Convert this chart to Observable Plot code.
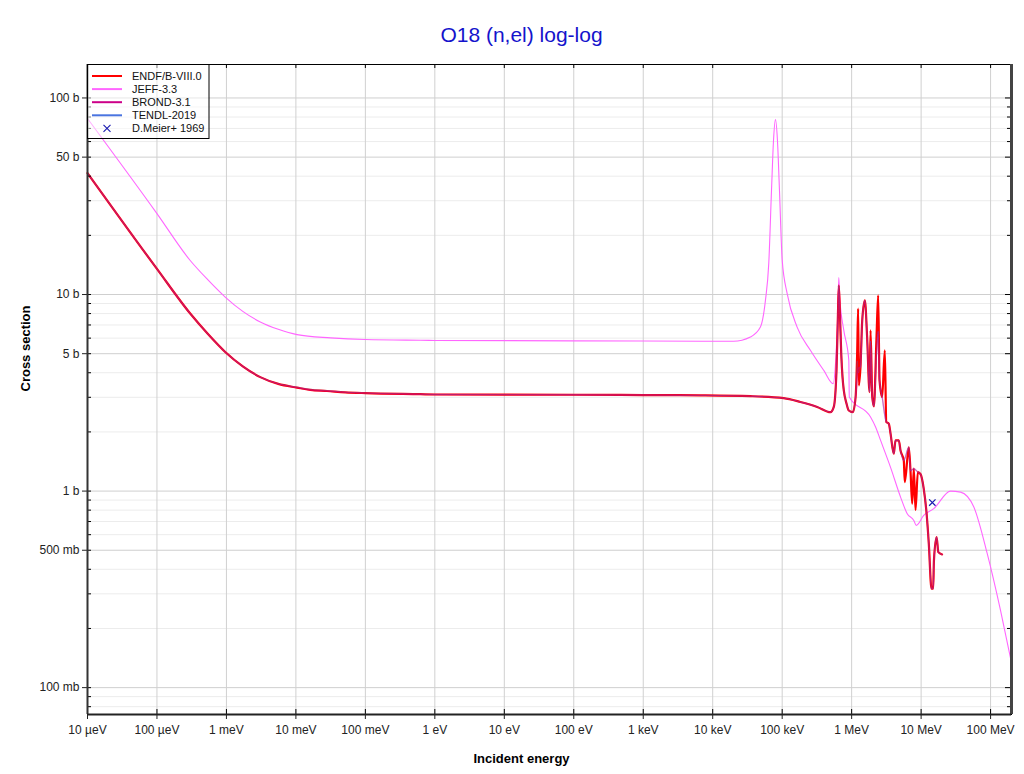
<!DOCTYPE html>
<html>
<head>
<meta charset="utf-8">
<script src="https://cdn.jsdelivr.net/npm/d3@7"></script>
<script src="https://cdn.jsdelivr.net/npm/@observablehq/plot@0.6"></script>
<style>
  html, body { margin: 0; padding: 0; background: #fff; }
  #wrap { position: relative; width: 1024px; height: 774px; }
  #border { position: absolute; left: 6px; top: 3px; width: 1030px; height: 790px; border: 1px solid #e8e8e8; box-sizing: border-box; }
  #chart { position: absolute; left: 0; top: 0; }
  svg text { font-family: "Liberation Sans", Arial, Helvetica, sans-serif; }
</style>
</head>
<body>
<div id="wrap"><div id="border"></div><div id="chart"></div></div>
<script>
// ---------- data (energy in eV, cross section in barns) ----------
const endfE = [1e-5, 1e-4, 3.01e-4, 5.38e-4, 9.6e-4, 1.72e-3, 3.07e-3, 5.57e-3, 0.0104, 0.0161, 0.028, 0.0514, 0.1, 0.62, 1, 100, 1000, 6650, 3.49e4, 1.05e5, 1.83e5, 3.19e5, 4.96e5, 5.53e5, 6.05e5, 6.32e5, 6.53e5, 6.76e5, 7.08e5, 7.39e5, 7.71e5, 8.43e5, 9.1e5, 1.04e6, 1.14e6, 1.20e6, 1.24e6, 1.27e6, 1.34e6, 1.42e6, 1.55e6, 1.67e6, 1.81e6, 1.87e6, 1.98e6, 2.09e6, 2.28e6, 2.41e6, 2.52e6, 2.75e6, 3.0e6, 3.15e6, 3.43e6, 3.63e6, 4.04e6, 4.28e6, 4.77e6, 5.05e6, 5.63e6, 5.82e6, 6.65e6, 7.03e6, 7.44e6, 7.85e6, 8.31e6, 8.97e6, 9.81e6, 1.09e7, 1.2e7, 1.29e7, 1.41e7, 1.49e7, 1.53e7, 1.67e7, 1.77e7, 2.0e7];
const endfS = [41.5, 13.5, 8.0, 6.31, 5.10, 4.31, 3.80, 3.51, 3.36, 3.27, 3.23, 3.18, 3.15, 3.11, 3.10, 3.09, 3.08, 3.07, 3.04, 2.97, 2.84, 2.68, 2.52, 2.68, 4.11, 7.39, 11.1, 8.31, 5.0, 3.80, 3.25, 2.79, 2.57, 2.52, 3.01, 5.0, 8.48, 3.45, 4.28, 7.39, 9.34, 6.08, 3.19, 6.57, 3.01, 2.70, 6.08, 9.91, 3.66, 3.01, 5.2, 2.25, 2.20, 1.96, 1.55, 1.81, 1.81, 1.61, 1.43, 1.11, 1.67, 1.27, 0.863, 1.30, 0.80, 1.25, 1.22, 1.03, 0.767, 0.540, 0.319, 0.319, 0.444, 0.583, 0.489, 0.476];

const jeffE = [1e-5, 1e-4, 3.01e-4, 5.38e-4, 9.6e-4, 1.72e-3, 3.07e-3, 5.57e-3, 0.0104, 0.0315, 0.1, 0.62, 1, 1000, 1.99e4, 3.49e4, 4.86e4, 5.74e4, 6.41e4, 7.02e4, 7.5e4, 8.0e4, 8.55e4, 9.14e4, 1.0e5, 1.18e5, 1.64e5, 2.56e5, 3.97e5, 5.42e5, 5.86e5, 6.32e5, 6.53e5, 6.76e5, 7.71e5, 9.1e5, 9.25e5, 1.87e6, 2.21e6, 2.61e6, 3.63e6, 5.06e6, 6.31e6, 7.85e6, 8.51e6, 1.09e7, 1.52e7, 2.65e7, 3.7e7, 5.74e7, 8.95e7, 1.39e8, 1.94e8];
const jeffS = [78.6, 25.8, 14.9, 11.9, 9.71, 8.21, 7.25, 6.65, 6.25, 6.02, 5.90, 5.85, 5.84, 5.80, 5.78, 6.08, 6.83, 9.34, 14.4, 33.9, 60.8, 77.6, 60.8, 33.9, 15.0, 10.1, 6.83, 5.19, 4.11, 3.52, 4.47, 8.2, 12.2, 9.5, 6.57, 4.63, 3.01, 2.38, 2.12, 1.81, 1.32, 0.932, 0.767, 0.709, 0.669, 0.752, 0.814, 1.0, 0.988, 0.829, 0.48, 0.247, 0.141];

const brondE = [1e-5, 1e-4, 3.01e-4, 5.38e-4, 9.6e-4, 1.72e-3, 3.07e-3, 5.57e-3, 0.0104, 0.0161, 0.028, 0.0514, 0.1, 0.62, 1, 100, 1000, 6650, 3.49e4, 1.05e5, 1.83e5, 3.19e5, 4.96e5, 5.53e5, 6.05e5, 6.32e5, 6.53e5, 6.76e5, 7.08e5, 7.39e5, 7.71e5, 8.43e5, 9.1e5, 1.04e6, 1.14e6, 1.24e6, 1.34e6, 1.42e6, 1.55e6, 1.67e6, 1.81e6, 1.87e6, 1.98e6, 2.09e6, 2.28e6, 2.41e6, 2.52e6, 2.75e6, 3.15e6, 3.43e6, 3.63e6, 4.04e6, 4.28e6, 4.77e6, 5.05e6, 5.63e6, 6.65e6, 7.03e6, 7.85e6, 8.97e6, 9.81e6, 1.09e7, 1.2e7, 1.29e7, 1.41e7, 1.49e7, 1.53e7, 1.67e7, 1.77e7, 2.0e7];
const brondS = [41.5, 13.5, 8.0, 6.31, 5.10, 4.31, 3.80, 3.51, 3.36, 3.27, 3.23, 3.18, 3.15, 3.11, 3.10, 3.09, 3.08, 3.07, 3.04, 2.97, 2.84, 2.68, 2.52, 2.68, 4.11, 7.39, 11.1, 8.31, 5.0, 3.80, 3.25, 2.79, 2.57, 2.52, 3.01, 4.2, 4.28, 7.39, 9.34, 6.08, 3.19, 5.8, 3.01, 2.70, 5.0, 6.5, 3.66, 3.01, 2.25, 2.20, 1.96, 1.55, 1.81, 1.81, 1.61, 1.43, 1.67, 1.27, 1.30, 1.25, 1.22, 1.03, 0.767, 0.540, 0.319, 0.319, 0.444, 0.583, 0.489, 0.476];

const tendlE = [1e-5, 1e-4, 3.01e-4, 5.38e-4, 9.6e-4, 1.72e-3, 3.07e-3, 5.57e-3, 0.0104, 0.0161, 0.028, 0.0514, 0.1, 0.62, 1, 100, 1000, 6650, 3.49e4, 1.05e5, 1.83e5, 3.19e5, 4.96e5, 5.53e5, 6.05e5, 6.32e5, 6.53e5, 6.76e5, 7.08e5, 7.39e5, 7.71e5, 8.43e5, 9.1e5, 1.04e6, 1.14e6, 1.20e6, 1.24e6, 1.34e6, 1.42e6, 1.55e6, 1.67e6, 1.81e6, 1.87e6, 1.98e6, 2.09e6, 2.28e6, 2.41e6, 2.52e6, 2.75e6, 3.15e6, 3.43e6, 3.63e6, 4.04e6, 4.28e6, 4.77e6, 5.05e6, 5.63e6, 6.65e6, 7.03e6, 7.85e6, 8.97e6, 9.81e6, 1.09e7, 1.2e7, 1.29e7, 1.41e7, 1.49e7, 1.53e7, 1.67e7, 1.77e7, 2.0e7];
const tendlS = [41.5, 13.5, 8.0, 6.31, 5.10, 4.31, 3.80, 3.52, 3.38, 3.30, 3.25, 3.19, 3.16, 3.12, 3.10, 3.09, 3.08, 3.07, 3.04, 2.97, 2.84, 2.68, 2.52, 2.68, 4.11, 7.39, 11.1, 8.31, 5.0, 3.80, 3.25, 2.79, 2.57, 2.52, 3.01, 4.6, 4.0, 4.28, 7.39, 9.34, 6.08, 3.19, 5.8, 3.01, 2.70, 5.0, 6.5, 3.66, 3.01, 2.25, 2.20, 1.96, 1.55, 1.81, 1.81, 1.61, 1.43, 1.67, 1.27, 1.30, 1.25, 1.22, 1.03, 0.767, 0.540, 0.319, 0.319, 0.444, 0.583, 0.489, 0.476];

const expE = [1.45e7];
const expS = [0.874];

const seriesNames = ["ENDF/B-VIII.0", "JEFF-3.3", "BROND-3.1", "TENDL-2019", "D.Meier+ 1969"];
const seriesColors = ["#ff0000", "#ff66ff", "#cc0088", "#4a74e0", "#1a1ab0"];

const xTicks = [1e-5, 1e-4, 1e-3, 1e-2, 1e-1, 1, 10, 100, 1e3, 1e4, 1e5, 1e6, 1e7, 1e8];
const xTickLabels = ["10 µeV", "100 µeV", "1 meV", "10 meV", "100 meV", "1 eV", "10 eV", "100 eV", "1 keV", "10 keV", "100 keV", "1 MeV", "10 MeV", "100 MeV"];
const yTicks = [100, 50, 10, 5, 1, 0.5, 0.1];
const yTickLabels = ["100 b", "50 b", "10 b", "5 b", "1 b", "500 mb", "100 mb"];
const yMinor = [0.08, 0.09, 0.2, 0.3, 0.4, 0.6, 0.7, 0.8, 0.9, 2, 3, 4, 6, 7, 8, 9, 20, 30, 40, 60, 70, 80, 90];

const title = "O18 (n,el) log-log";
const xLabel = "Incident energy";
const yLabel = "Cross section";

// ---------- build ----------
const toRows = (E, S) => E.map((e, i) => ({e, s: S[i]}));
const endf = toRows(endfE, endfS);
const jeff = toRows(jeffE, jeffS);
const brond = toRows(brondE, brondS);
const tendl = toRows(tendlE, tendlS);
const exp = toRows(expE, expS);

const xLab = new Map(xTicks.map((v, i) => [v, xTickLabels[i]]));
const yLab = new Map(yTicks.map((v, i) => [v, yTickLabels[i]]));

const W = 1024, H = 774, mL = 87, mR = 13, mT = 64, mB = 60;
const pw = W - mL - mR, ph = H - mT - mB;
const xDom = [1e-5, 2e8], yDom = [0.073, 148];

const plot = Plot.plot({
  width: W, height: H,
  marginLeft: mL, marginRight: mR, marginTop: mT, marginBottom: mB,
  style: {background: "#fff", fontFamily: "Liberation Sans, Arial, sans-serif", fontSize: "12px", color: "#222"},
  x: {type: "log", domain: xDom},
  y: {type: "log", domain: yDom},
  marks: [
    Plot.gridY(yMinor, {stroke: "#ececec", strokeOpacity: 1}),
    Plot.gridY(yTicks, {stroke: "#cfcfcf", strokeOpacity: 1}),
    Plot.gridX(xTicks, {stroke: "#d0d0d0", strokeOpacity: 1}),
    Plot.line(jeff, {x: "e", y: "s", stroke: seriesColors[1], strokeWidth: 1.1, curve: "monotone-x"}),
    Plot.line(endf, {x: "e", y: "s", stroke: seriesColors[0], strokeWidth: 2.2, curve: "monotone-x"}),
    Plot.line(brond, {x: "e", y: "s", stroke: seriesColors[2], strokeWidth: 1.4, strokeOpacity: 0.55, curve: "monotone-x"}),
    Plot.line(tendl, {x: "e", y: "s", stroke: seriesColors[3], strokeWidth: 1, strokeOpacity: 0.25, curve: "monotone-x"}),
    Plot.dot(exp, {x: "e", y: "s", symbol: "times", r: 3, stroke: seriesColors[4], strokeWidth: 1.2}),
    Plot.frame({stroke: "#000", strokeWidth: 1}),
    // axes
    Plot.axisX(xTicks, {anchor: "bottom", tickSize: 5, tickPadding: 6, tickFormat: d => xLab.get(d), label: null, fontSize: 12}),
    Plot.axisY(yTicks, {anchor: "left", tickSize: 5, tickPadding: 3, tickFormat: d => yLab.get(d), label: null, fontSize: 12}),
    // inner tick parts
    Plot.ruleX(xTicks, {insetTop: ph - 5, stroke: "#000"}),
    Plot.ruleX(xTicks, {insetBottom: ph - 4, stroke: "#000"}),
    Plot.ruleY(yMinor, {insetRight: pw - 4, stroke: "#000"}),
    Plot.ruleY(yTicks, {insetRight: pw - 4, stroke: "#000"}),
    Plot.ruleY(yMinor, {insetLeft: pw - 4, stroke: "#000"}),
    Plot.ruleY(yTicks, {insetLeft: pw - 6, stroke: "#000"}),
    // axis lines
    Plot.ruleX([xDom[0]], {stroke: "#333", strokeWidth: 2}),
    Plot.ruleX([xDom[1]], {stroke: "#444", strokeWidth: 3}),
    Plot.ruleY([yDom[0]], {stroke: "#222", strokeWidth: 2}),
    // title & labels
    Plot.text([title], {frameAnchor: "top", lineAnchor: "middle", dx: -28, dy: -29, fontSize: 21, fill: "#1414cc", text: d => d}),
    Plot.text([xLabel], {frameAnchor: "bottom", lineAnchor: "middle", dx: -28, dy: 44, fontSize: 13, fontWeight: "bold", fill: "#000", text: d => d}),
    Plot.text([yLabel], {frameAnchor: "left", lineAnchor: "middle", dx: -62, dy: 2, rotate: -90, fontSize: 13, fontWeight: "bold", fill: "#000", text: d => d})
  ]
});

document.getElementById("chart").appendChild(plot);

// ---------- legend ----------
const svg = d3.select(plot);
const lg = svg.append("g").attr("class", "legend").attr("text-anchor", "start");
lg.append("rect").attr("x", 87.5).attr("y", 64.5).attr("width", 121.5).attr("height", 74)
  .attr("fill", "#fff").attr("fill-opacity", 0.5).attr("stroke", "#000").attr("stroke-width", 1);
seriesNames.forEach((name, i) => {
  const yy = 76 + i * 13.1;
  if (i < 4) {
    lg.append("line").attr("x1", 92).attr("x2", 122).attr("y1", yy).attr("y2", yy)
      .attr("stroke", seriesColors[i]).attr("stroke-width", 2);
  } else {
    lg.append("path").attr("d", `M${107-3.5},${yy-3.5}L${107+3.5},${yy+3.5}M${107-3.5},${yy+3.5}L${107+3.5},${yy-3.5}`)
      .attr("stroke", seriesColors[4]).attr("stroke-width", 1.1).attr("fill", "none");
  }
  lg.append("text").attr("x", 132).attr("y", yy).attr("dy", "0.35em").attr("text-anchor", "start")
    .attr("font-size", 11).attr("fill", "#111").text(name);
});
</script>
</body>
</html>
